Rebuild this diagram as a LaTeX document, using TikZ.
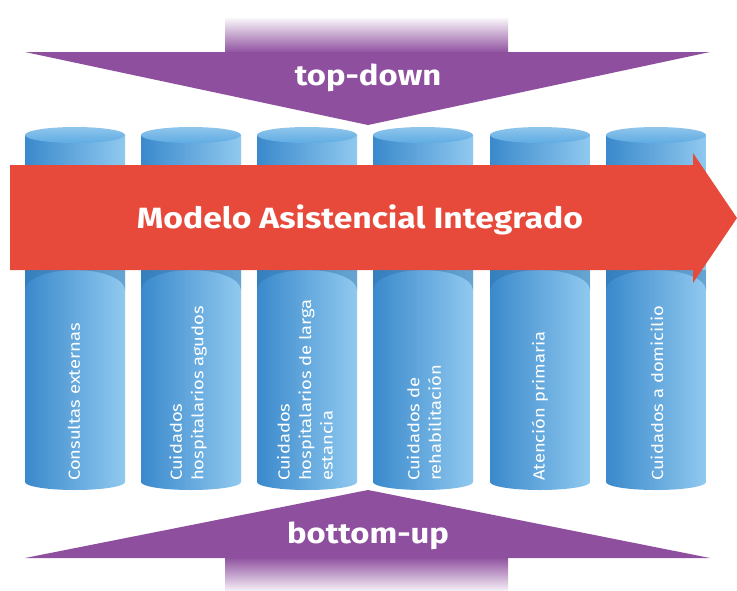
\documentclass[tikz,border=0pt]{standalone}
\usepackage{fontspec}
\setmainfont{Fira Sans}
\newfontfamily\widefont[FakeStretch=1.15]{Fira Sans}
\definecolor{purp}{HTML}{8E4F9E}
\definecolor{redA}{HTML}{E74A3B}
\definecolor{cylL}{HTML}{3A89CC}
\definecolor{cylR}{HTML}{90C9EF}
\definecolor{cylT}{HTML}{5FACE3}
\definecolor{cylS}{HTML}{2A6FA8}
\tikzset{
  lbl/.style={rotate=90, anchor=west, align=left, text=white, inner sep=0pt,
    font=\widefont\fontsize{16}{21.5}\selectfont},
  bigtxt/.style={text=white, inner sep=0pt, font=\widefont\fontsize{28.5}{30}\selectfont\bfseries},
  titletxt/.style={bigtxt, font=\widefont\fontsize{29.3}{31}\selectfont\bfseries}
}
\begin{document}
\begin{tikzpicture}[x=1pt,y=-1pt]
\useasboundingbox[fill=white] (0,0) rectangle (737,590);
% top-down arrow
\shade[top color=purp!5, bottom color=purp] (225,18) rectangle (508,53);
\fill[purp] (25,52) -- (710,52) -- (368,125) -- cycle;
\node[bigtxt] (td) at (368,78) {top-down};
% bottom-up arrow
\shade[top color=purp, bottom color=purp!5] (225,557) rectangle (508,592);
\fill[purp] (25,558) -- (710,558) -- (368,490) -- cycle;
\node[bigtxt] (bu) at (368,536) {bottom-up};
% cylinders
\foreach \L in {25,141,257,373,490,606} {
  \shade[left color=cylL, right color=cylR] (\L,135) -- (\L,482)
    arc[start angle=180, end angle=360, x radius=50pt, y radius=8pt] -- (\L+100,135) -- cycle;
  \shade[top color=cylT!70!white, bottom color=cylT] (\L+50,135) ellipse[x radius=50pt, y radius=8pt];
  \fill[cylS, opacity=.4] (\L,270) -- (\L,290)
    arc[start angle=180, end angle=0, x radius=50pt, y radius=20pt] -- (\L+100,270) -- cycle;
}
\node[lbl] (c1) at (74,481) {Consultas externas};
\node[lbl] (c2) at (188,481) {Cuidados\\hospitalarios agudos};
\node[lbl] (c3) at (305,481) {Cuidados\\hospitalarios de larga\\estancia};
\node[lbl] (c4) at (424,481) {Cuidados de\\rehabilitación};
\node[lbl] (c5) at (540,481) {Atención primaria};
\node[lbl] (c6) at (657,481) {Cuidados a domicilio};
% red arrow
\fill[redA] (10,165) -- (693,165) -- (693,153) -- (737,218) -- (693,283) -- (693,270) -- (10,270) -- cycle;
\node[titletxt] (mai) at (360,220) {Modelo Asistencial Integrado};
\end{tikzpicture}
\end{document}
